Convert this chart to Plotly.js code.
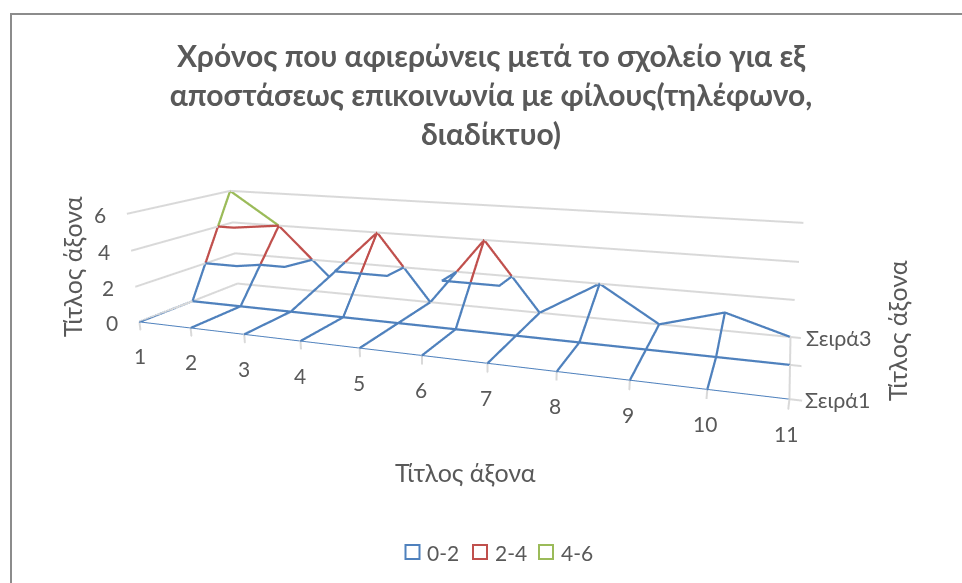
<!DOCTYPE html>
<html><head><meta charset="utf-8">
<script src="https://cdn.plot.ly/plotly-3.0.1.min.js"></script>
<style>html,body{margin:0;padding:0;background:#fff;overflow:hidden;width:962px;height:583px}#c{position:absolute;left:-25px;top:-31px;width:988px;height:714px}</style>
</head><body><div id="c"></div>
<script>
const categories=[1,2,3,4,5,6,7,8,9,10,11];
const seriesNames=['Σειρά1','Σειρά2','Σειρά3'];
const series1=[0,0,0,0,0,0,0,0,0,0,0];
const series2=[0,0,0,0,0,0,0,0,0,0,0];
const series3=[6,4,1,4,0,4,0,2,0,1,0];
const zTicks=[0,2,4,6];
const bandNames=['0-2','2-4','4-6'];
const rows=[series1,series2,series3];
const L0=-25,T0=-31,W=988,H=714;
const p=[0.7446,-1.9568,0.4992,-0.1135,0.4130,-0.2624,-0.0009,0.4401,0.2840];
const A=1.6,B=p[7],C=p[8];
const xPad=.15,zPad=.45,eps=.03;
const xRange=[1-eps,11+xPad],yRange=[1-eps,3+eps],zRange=[-zPad,6+eps];
const mid=r=>(r[0]+r[1])/2,len=r=>r[1]-r[0];
const dx=(6-mid(xRange))*A/10,dy=(2-mid(yRange))*B/2,dz=(3-mid(zRange))*C/6;
const LV=[2,4],COL=['#4f81bd','#c0504d','#9bbb59'],GRID='#d9d9d9';
const traces=[];
function seg(a,b,color,width){traces.push({type:'scatter3d',mode:'lines',x:[a[0],a[0],b[0],b[0]],y:[a[1],a[1],b[1],b[1]],z:[a[2],a[2],b[2],b[2]],line:{color,width},hoverinfo:'skip',showlegend:false})}
zTicks.forEach(z=>{seg([1,1,z],[1,3,z],GRID,4);seg([1,3,z],[11,3,z],GRID,4)});
seg([11,1,0],[11,3,0],GRID,4);
categories.forEach(x=>seg([x,1,0],[x,1,-zPad],GRID,4));
[1,2,3].forEach(y=>seg([11,y,0],[11+xPad,y,0],GRID,4));
function band(z){return z<2?0:z<4?1:2}
function addEdge(a,b,w){let pts=[a];const s=[];for(const L of LV){if((a[2]<L)!==(b[2]<L)){const t=(L-a[2])/(b[2]-a[2]);s.push([a[0]+t*(b[0]-a[0]),a[1]+t*(b[1]-a[1]),L])}}if(a[2]>b[2])s.reverse();pts=pts.concat(s,[b]);
 for(let i=0;i+1<pts.length;i++){const m=(pts[i][2]+pts[i+1][2])/2;seg(pts[i],pts[i+1],COL[band(m)],w)}}
const nx=categories.length;
const P=(i,j)=>[categories[i],j+1,rows[j][i]];
for(let j=0;j<3;j++)for(let i=0;i+1<nx;i++)addEdge(P(i,j),P(i+1,j),j===0?2:4.5);
for(let i=0;i<nx-1;i++)for(let j=0;j<2;j++)addEdge(P(i,j),P(i,j+1),4.5);
for(let j=0;j<2;j++)for(let i=0;i+1<nx;i++){const c=[P(i,j),P(i+1,j),P(i+1,j+1),P(i,j+1)];
 const tris=Math.abs(c[0][2]-c[2][2])>=Math.abs(c[1][2]-c[3][2])?[[c[0],c[1],c[2]],[c[0],c[2],c[3]]]:[[c[1],c[2],c[3]],[c[1],c[3],c[0]]];
 for(const L of LV){for(const t3 of tris){const h=[];for(let q=0;q<3;q++){const u=t3[q],v=t3[(q+1)%3];if((u[2]<L)!==(v[2]<L)){const t=(L-u[2])/(v[2]-u[2]);h.push([u[0]+t*(v[0]-u[0]),u[1]+t*(v[1]-u[1]),L])}}if(h.length===2)seg(h[0],h[1],COL[L===2?0:1],4.5)}}}
const TXT='#595959',FF='Lato, Liberation Sans, sans-serif';
const ax=(r)=>({range:r,showgrid:false,zeroline:false,showticklabels:false,showspikes:false,showbackground:false,title:{text:''},ticks:'',showline:false});
const lab=(o)=>Object.assign({showarrow:false,xanchor:'center',yanchor:'middle',font:{size:21,color:TXT,family:FF}},o);
const ann3=categories.map((v,i)=>lab({x:v,y:1,z:0,text:String(v),yshift:-34,xshift:-i*.4+1}));
zTicks.forEach(v=>ann3.push(lab({x:1,y:1,z:v,text:String(v),xshift:-27,yshift:-1})));
[[0,1],[2,3]].forEach(([k,y])=>ann3.push(lab({x:11,y:y,z:0,text:seriesNames[k],xanchor:'left',xshift:14,yshift:-1,font:{size:21.5,color:TXT,family:FF}})));
const X=x=>(x-L0)/W,Y=y=>1-(y-T0)/H;
const pap=(x,y,o)=>lab(Object.assign({xref:'paper',yref:'paper',x:X(x),y:Y(y)},o));
const big={size:25,color:TXT,family:FF};
const ann=[pap(465,472,{text:'Τίτλος άξονα',font:big}),
 pap(72,267,{text:'Τίτλος άξονα',textangle:-90,font:big}),
 pap(897,331,{text:'Τίτλος άξονα',textangle:-90,font:big}),
 pap(425,552,{text:bandNames[0],xanchor:'left'}),
 pap(493,552,{text:bandNames[1],xanchor:'left'}),
 pap(559,552,{text:bandNames[2],xanchor:'left'})];
const sq=(x,c)=>({type:'rect',xref:'paper',yref:'paper',x0:X(x-7),x1:X(x+7),y0:Y(552+7),y1:Y(552-7),line:{color:c,width:2},fillcolor:'rgba(0,0,0,0)'});
const layout={width:W,height:H,margin:{l:0,r:0,t:0,b:0},paper_bgcolor:'#fff',showlegend:false,
 title:{text:'Χρόνος που αφιερώνεις μετά το σχολείο για εξ<br>αποστάσεως επικοινωνία με φίλους(τηλέφωνο,<br>διαδίκτυο)',font:{family:FF,size:30,color:TXT,weight:700},x:X(491),xanchor:'center',y:Y(67),yanchor:'top'},
 shapes:[sq(412.5,COL[0]),sq(480,COL[1]),sq(546,COL[2]),
  {type:'line',xref:'paper',yref:'paper',x0:X(11),x1:X(11),y0:0,y1:Y(14),line:{color:'#8c8c8c',width:2}},
  {type:'line',xref:'paper',yref:'paper',x0:X(10),x1:1,y0:Y(14),y1:Y(14),line:{color:'#8c8c8c',width:2}}],
 annotations:ann,
 scene:{domain:{x:[0,1],y:[0,1]},aspectmode:'manual',aspectratio:{x:A*len(xRange)/10,y:B*len(yRange)/2,z:C*len(zRange)/6},
 camera:{eye:{x:p[0]+dx,y:p[1]+dy,z:p[2]+dz},center:{x:p[3]+dx,y:p[4]+dy,z:p[5]+dz},up:{x:p[6],y:0,z:1},projection:{type:'perspective'}},
 xaxis:ax(xRange),yaxis:ax(yRange),zaxis:ax(zRange),annotations:ann3}};
Plotly.newPlot('c',traces,layout,{displayModeBar:false});
</script></body></html>
